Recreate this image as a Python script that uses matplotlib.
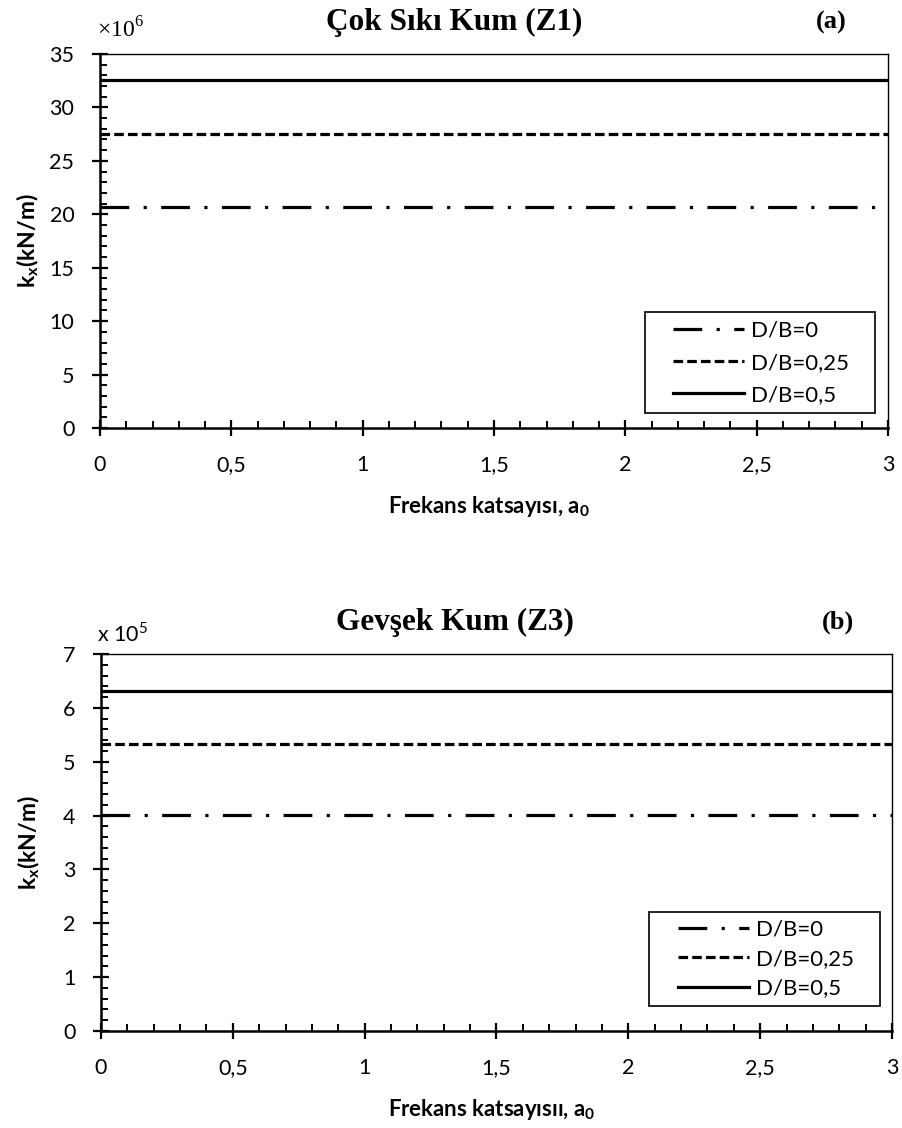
import matplotlib
matplotlib.use("Agg")
import matplotlib.pyplot as plt
from matplotlib.ticker import MultipleLocator, FuncFormatter
from matplotlib.patches import Rectangle

# ---- data ----
a0 = [0.0, 0.5, 1.0, 1.5, 2.0, 2.5, 3.0]
labels = ["D/B=0", "D/B=0,25", "D/B=0,5"]

# (a) Çok Sıkı Kum (Z1), kN/m
kx_z1_db0 = [20.7e6] * 7
kx_z1_db025 = [27.5e6] * 7
kx_z1_db05 = [32.6e6] * 7

# (b) Gevşek Kum (Z3), kN/m
kx_z3_db0 = [4.01e5] * 7
kx_z3_db025 = [5.33e5] * 7
kx_z3_db05 = [6.31e5] * 7

sans = "Lato"
serif = "Liberation Serif"

fig = plt.figure(figsize=(9.02, 11.28), dpi=100)
W, H = 902, 1128

def ax_rect(l, r, t, b):
    return [l / W, 1 - b / H, (r - l) / W, (b - t) / H]

def fx(px):
    return px / W

def fy(py):
    return 1 - py / H

styles = [
    dict(color="black", lw=2.3, linestyle=(0, (9, 4.5, 1, 4.5))),
    dict(color="black", lw=2.3, linestyle=(0, (3, 1.3))),
    dict(color="black", lw=2.3, linestyle="-"),
]

def fmt(v, pos):
    return ("%g" % v).replace(".", ",")

def draw(ax, series, scale, ymax, ymaj, ymin_step, xlabel, xl_y,
         leg_anchor_px, lspacing, box_px):
    for vals, st, lab in zip(series, styles, labels):
        ax.plot(a0, [v / scale for v in vals], label=lab, **st)
    ax.set_xlim(0, 3)
    ax.set_ylim(0, ymax)
    ax.xaxis.set_major_locator(MultipleLocator(0.5))
    ax.xaxis.set_minor_locator(MultipleLocator(0.1))
    ax.yaxis.set_major_locator(MultipleLocator(ymaj))
    ax.yaxis.set_minor_locator(MultipleLocator(ymin_step))
    ax.xaxis.set_major_formatter(FuncFormatter(fmt))
    ax.yaxis.set_major_formatter(FuncFormatter(fmt))
    ax.tick_params(which="major", direction="inout", length=11, width=1.6,
                   labelsize=15.5)
    ax.tick_params(axis="y", which="major", pad=13)
    ax.tick_params(axis="x", which="major", pad=14)
    ax.tick_params(which="minor", direction="in", length=5, width=1.4)
    for lb in ax.get_xticklabels() + ax.get_yticklabels():
        lb.set_family(sans)
    ax.spines["left"].set_linewidth(1.8)
    ax.spines["bottom"].set_linewidth(1.8)
    ax.spines["top"].set_linewidth(1.0)
    ax.spines["right"].set_linewidth(1.0)
    ax.set_ylabel(r"k$_\mathregular{x}$(kN/m)", fontsize=16.5, fontweight="bold",
                  family=sans)
    ax.yaxis.set_label_coords(-0.075, 0.5)
    ax.set_xlabel(xlabel, fontsize=16, fontweight="bold", family=sans)
    ax.xaxis.set_label_coords(0.494, xl_y)
    # legend (frame drawn separately to reproduce the wide side margins)
    leg = ax.legend(loc="center right",
                    bbox_to_anchor=(fx(leg_anchor_px[0]), fy(leg_anchor_px[1])),
                    bbox_transform=fig.transFigure, frameon=False,
                    handlelength=3.2, handletextpad=0.3, borderpad=0,
                    labelspacing=lspacing, borderaxespad=0,
                    prop={"family": sans, "size": 16})
    l, t, r, b = box_px
    fig.patches.append(Rectangle((fx(l), fy(b)), fx(r) - fx(l), fy(t) - fy(b),
                                 transform=fig.transFigure, fill=False,
                                 edgecolor="black", lw=1.2, zorder=5))

ax1 = fig.add_axes(ax_rect(100, 888, 54, 428))
ax2 = fig.add_axes(ax_rect(101, 892, 654, 1031))

draw(ax1, [kx_z1_db0, kx_z1_db025, kx_z1_db05], 1e6, 35, 5, 1,
     r"Frekans katsayısı, a$_\mathregular{0}$", -0.176,
     (849, 363), 0.55, (645, 312, 875, 413))
draw(ax2, [kx_z3_db0, kx_z3_db025, kx_z3_db05], 1e5, 7, 1, 0.2,
     r"Frekans katsayısıı, a$_\mathregular{0}$", -0.175,
     (854, 959), 0.42, (649, 912, 880, 1006))

# titles, panel tags and multipliers
fig.text(fx(454), fy(30), "Çok Sıkı Kum (Z1)", fontsize=22.5, fontweight="bold",
         family=serif, ha="center", va="baseline")
fig.text(fx(831), fy(29), "(a)", fontsize=19, fontweight="bold",
         family=serif, ha="center", va="baseline")
fig.text(fx(97), fy(37), r"×10$^\mathregular{6}$", fontsize=17,
         family=serif, ha="left", va="baseline")

fig.text(fx(455), fy(630), "Gevşek Kum (Z3)", fontsize=22.5, fontweight="bold",
         family=serif, ha="center", va="baseline")
fig.text(fx(838), fy(629), "(b)", fontsize=19, fontweight="bold",
         family=serif, ha="center", va="baseline")
fig.text(fx(97), fy(642), r"x 10$^\mathregular{5}$", fontsize=15.5,
         family=sans, ha="left", va="baseline")

fig.savefig("out.png", dpi=100)
